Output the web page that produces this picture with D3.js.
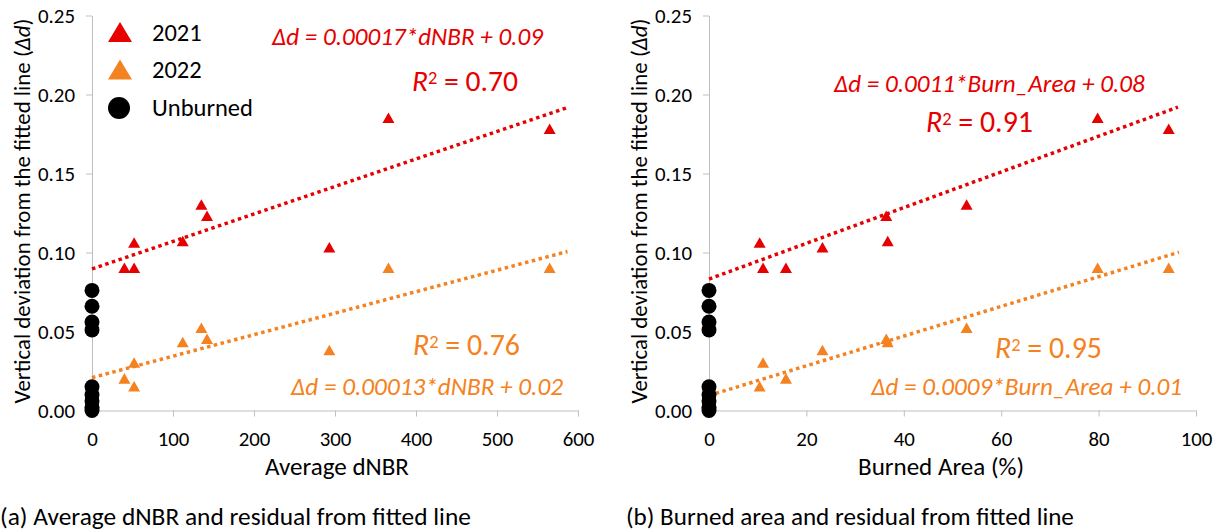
<!DOCTYPE html>
<head>
  <meta charset="utf-8">
  <script src="https://cdnjs.cloudflare.com/ajax/libs/d3/7.8.5/d3.min.js"></script>
  <style>
    body { margin: 0; background: #fff; }
    svg { display: block; font-family: Carlito, Lato, "Open Sans", sans-serif; }
    .axis path, .axis line { stroke: #bfbfbf; }
    .axis text { fill: #000; font-family: Carlito, Lato, sans-serif; }
  </style>
</head>

<body>
  <svg width="1220" height="532"></svg>
  <script>
    // values
    var yTicks = [0, 0.05, 0.10, 0.15, 0.20, 0.25];
    var dnbrTicks = [0, 100, 200, 300, 400, 500, 600];
    var areaTicks = [0, 20, 40, 60, 80, 100];

    // 2021 series
    var dnbr2021 = [40, 52, 52, 112, 135, 142, 293, 366, 565];
    var area2021 = [11.1, 15.8, 10.4, 36.7, 52.9, 36.4, 23.3, 79.8, 94.4];
    var dev2021  = [0.090, 0.090, 0.106, 0.107, 0.130, 0.123, 0.103, 0.185, 0.178];

    // 2022 series
    var dnbr2022 = [40, 52, 52, 112, 135, 142, 293, 366, 565];
    var area2022 = [15.8, 10.4, 11.1, 36.7, 52.9, 36.4, 23.3, 79.8, 94.4];
    var dev2022  = [0.020, 0.015, 0.030, 0.043, 0.052, 0.045, 0.038, 0.090, 0.090];

    // unburned plots (x = 0)
    var devUnburned = [0.076, 0.066, 0.056, 0.051, 0.015, 0.010, 0.006, 0.002, 0.000];

    // fitted lines: [intercept, slope, xStart, xEnd]
    var fitDnbr2021 = [0.0896, 0.000174, 0, 589];
    var fitDnbr2022 = [0.0208, 0.000136, 0, 587];
    var fitArea2021 = [0.0832, 0.00113, 0, 96.3];
    var fitArea2022 = [0.0095, 0.00094, 0, 96.5];

    var legendNames = ['2021', '2022', 'Unburned'];

    var red = '#e60000';
    var orange = '#f58220';

    var svg = d3.select('svg');

    var yScale = d3.scaleLinear().domain([0, 0.25]).range([410.5, 15.5]);
    var xDnbr = d3.scaleLinear().domain([0, 600]).range([92, 578]);
    var xArea = d3.scaleLinear().domain([0, 100]).range([709, 1196]);

    // scale a text's font size so that it has the width seen in the picture
    function fitText(sel, target) {
      var w = sel.node().getComputedTextLength();
      var fs = parseFloat(sel.style('font-size'));
      sel.style('font-size', (fs * target / w) + 'px');
      return sel;
    }
    function sizeFor(str, target) {
      var probe = svg.append('text').style('font-size', '20px').text(str);
      var fs = parseFloat(fitText(probe, target).style('font-size'));
      probe.remove();
      return fs;
    }

    var tickSize = sizeFor('0.25', 37);
    var titleSize = sizeFor('Average dNBR', 144);
    var legendSize = sizeFor('Unburned', 101);

    function triangle(w, h) {
      return 'M0,' + (-h * 0.55) + 'L' + (w / 2) + ',' + (h * 0.45) + 'L' + (-w / 2) + ',' + (h * 0.45) + 'Z';
    }

    function panel(p) {
      var xScale = p.x;
      var x0 = xScale.range()[0];

      svg.append('g')
        .attr('class', 'axis')
        .attr('transform', 'translate(' + [x0, 0] + ')')
        .call(d3.axisLeft(yScale).tickValues(yTicks).tickFormat(d3.format('.2f'))
          .tickSize(6).tickSizeOuter(0).tickPadding(11))
        .selectAll('text').style('font-size', tickSize + 'px');

      svg.append('g')
        .attr('class', 'axis')
        .attr('transform', 'translate(' + [0, yScale(0)] + ')')
        .call(d3.axisBottom(xScale).tickValues(p.ticks).tickSize(6).tickSizeOuter(0).tickPadding(15))
        .selectAll('text').style('font-size', tickSize + 'px');

      // y title
      var yt = svg.append('text')
        .attr('transform', 'translate(' + [x0 - 62, (yScale(0) + yScale(0.25)) / 2 - 2] + ') rotate(-90)')
        .attr('text-anchor', 'middle')
        .style('font-size', '18px');
      yt.append('tspan').text('Vertical deviation from the fitted line (');
      yt.append('tspan').style('font-style', 'italic').text('Δd');
      yt.append('tspan').text(')');
      fitText(yt, 385);

      // x title
      svg.append('text')
        .attr('x', p.titleX)
        .attr('y', 475)
        .attr('text-anchor', 'middle')
        .style('font-size', titleSize + 'px')
        .text(p.title);

      // caption
      fitText(svg.append('text')
        .attr('x', p.capX)
        .attr('y', 525)
        .style('font-size', '22px')
        .text(p.caption), p.capW);

      // triangles
      var g = svg.append('g');
      g.selectAll('.t21').data(d3.range(p.xs21.length)).enter().append('path')
        .attr('d', triangle(12, 10.5))
        .attr('transform', i => 'translate(' + [xScale(p.xs21[i]), yScale(dev2021[i])] + ')')
        .attr('fill', red);
      g.selectAll('.t22').data(d3.range(p.xs22.length)).enter().append('path')
        .attr('d', triangle(12, 10.5))
        .attr('transform', i => 'translate(' + [xScale(p.xs22[i]), yScale(dev2022[i])] + ')')
        .attr('fill', orange);

      // fitted lines
      [[p.fit21, red], [p.fit22, orange]].forEach(f => {
        var fit = f[0];
        svg.append('path')
          .attr('d', d3.line()
            .x(d => xScale(d))
            .y(d => yScale(fit[0] + fit[1] * d))([fit[2], fit[3]]))
          .attr('stroke', f[1])
          .attr('stroke-width', 3.5)
          .attr('stroke-dasharray', '3.5,3.5')
          .attr('fill', 'none');
      });

      // unburned circles
      svg.append('g').selectAll('circle').data(devUnburned).enter().append('circle')
        .attr('cx', xScale(0))
        .attr('cy', d => yScale(d))
        .attr('r', 7.5)
        .attr('fill', '#000');

      // equations and R2
      p.texts.forEach(t => {
        var el;
        if (t.eq) {
          el = svg.append('text')
            .style('font-size', '20px')
            .style('font-style', 'italic')
            .text(t.eq);
        } else {
          el = svg.append('text').style('font-size', '26px');
          el.append('tspan').style('font-style', 'italic').text('R');
          el.append('tspan').attr('dy', '-0.38em').style('font-size', '0.62em').text('2');
          el.append('tspan').attr('dy', '0.24em').text(' = ' + t.r2);
        }
        el.attr('x', t.x).attr('y', t.y)
          .attr('fill', t.color)
          .attr('text-anchor', t.anchor || 'start');
        fitText(el, t.w);
      });
    }

    panel({
      x: xDnbr, ticks: dnbrTicks, xs21: dnbr2021, xs22: dnbr2022,
      fit21: fitDnbr2021, fit22: fitDnbr2022,
      title: 'Average dNBR', titleX: 337,
      caption: '(a) Average dNBR and residual from fitted line', capX: 0, capW: 471,
      texts: [
        {eq: 'Δd = 0.00017*dNBR + 0.09', x: 272, y: 45, w: 271, color: red},
        {r2: '0.70', x: 412, y: 91, w: 106, color: red},
        {r2: '0.76', x: 413, y: 355, w: 107, color: orange},
        {eq: 'Δd = 0.00013*dNBR + 0.02', x: 563, y: 395, w: 272, color: orange, anchor: 'end'}
      ]
    });

    panel({
      x: xArea, ticks: areaTicks, xs21: area2021, xs22: area2022,
      fit21: fitArea2021, fit22: fitArea2022,
      title: 'Burned Area (%)', titleX: 941,
      caption: '(b) Burned area and residual from fitted line', capX: 626, capW: 448,
      texts: [
        {eq: 'Δd = 0.0011*Burn_Area + 0.08', x: 834, y: 92, w: 311, color: red},
        {r2: '0.91', x: 926, y: 132, w: 107, color: red},
        {r2: '0.95', x: 995, y: 358, w: 107, color: orange},
        {eq: 'Δd = 0.0009*Burn_Area + 0.01', x: 1182, y: 395, w: 311, color: orange, anchor: 'end'}
      ]
    });

    // legend (left panel only)
    var legendMarks = [['tri', red], ['tri', orange], ['circ', '#000']];
    legendNames.forEach((name, i) => {
      var cy = 33 + i * 37.5;
      var m = legendMarks[i];
      if (m[0] === 'tri') {
        svg.append('path')
          .attr('d', triangle(24, 20))
          .attr('transform', 'translate(' + [120, cy] + ')')
          .attr('fill', m[1]);
      } else {
        svg.append('circle').attr('cx', 119).attr('cy', cy).attr('r', 11).attr('fill', m[1]);
      }
      svg.append('text')
        .attr('x', 152)
        .attr('y', cy + 7.5)
        .style('font-size', legendSize + 'px')
        .text(name);
    });
  </script>
</body>
